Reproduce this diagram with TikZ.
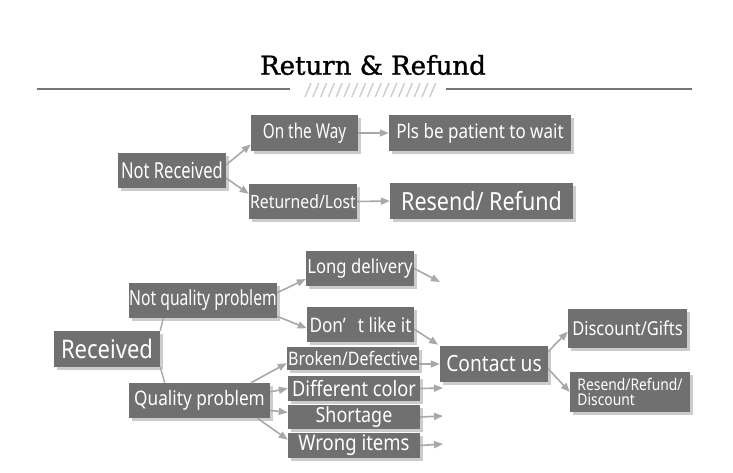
\documentclass[tikz,border=0pt]{standalone}
\usepackage{fontspec}
\setmainfont{Noto Sans}[FakeStretch=0.86]
\newfontfamily\narrowfont{Noto Sans}[FakeStretch=0.75]
\newfontfamily\titlefont{DejaVu Serif}[FakeBold=1.2]
\usepackage{xcolor}
\usetikzlibrary{arrows.meta,shadows}
\definecolor{boxgray}{RGB}{112,112,112}
\definecolor{arrowgray}{RGB}{168,168,168}
\definecolor{rulegray}{RGB}{118,118,118}
\definecolor{hatchgray}{RGB}{205,205,205}

\begin{document}
\begin{tikzpicture}[x=1pt,y=-1pt,
  box/.style={fill=boxgray,text=white,inner sep=0pt,align=center,
    drop shadow={shadow xshift=2.5pt,shadow yshift=-2.5pt,fill=black,opacity=0.2}},
  arr/.style={arrowgray,line width=1.6pt,-{Triangle[length=9pt,width=7pt]}},
  link/.style={arrowgray,line width=1.4pt},
  rule/.style={rulegray,line width=1.8pt},
  hatch/.style={hatchgray,line width=1.4pt}]
  \useasboundingbox (0,0) rectangle (733,472);

  % heading
  \node[inner sep=0pt] (title) at (373,65) {\titlefont\fontsize{26}{26}\selectfont Return \& Refund};
  \draw[rule] (37,89) -- (290,89);
  \draw[rule] (446,89) -- (692,89);
  \foreach \i in {0,...,16}
    \draw[hatch] (305+\i*7.8,97) -- ++(6,-14);

  % not received
  \node[box,minimum width=108pt,minimum height=35pt,font=\narrowfont\fontsize{22}{22}\selectfont] (nrec) at (172,170.5) {Not Received};
  \node[box,minimum width=107pt,minimum height=36pt,font=\narrowfont\fontsize{20.4}{20.4}\selectfont] (way) at (304.5,133) {On the Way};
  \node[box,minimum width=182pt,minimum height=36pt,font=\fontsize{19.8}{19.8}\selectfont] (pls) at (480,133) {Pls be patient to wait};
  \node[box,minimum width=108pt,minimum height=35pt,font=\fontsize{18.3}{18.3}\selectfont] (lost) at (303,201.5) {Returned/Lost};
  \node[box,minimum width=183pt,minimum height=36pt,font=\fontsize{25}{25}\selectfont] (resend) at (481.5,201) {Resend/ Refund};

  \draw[arr] (nrec.6) -- (way.192);
  \draw[arr] (nrec.-8) -- (lost.172);
  \draw[arr] (way.east) -- (pls.west);
  \draw[arr] (lost.east) -- (resend.west);

  % received
  \node[box,minimum width=106pt,minimum height=36pt,font=\fontsize{25.6}{25.6}\selectfont] (rec) at (107,349) {Received};
  \node[box,minimum width=148pt,minimum height=35pt,font=\narrowfont\fontsize{20.9}{20.9}\selectfont] (nqp) at (203,300.5) {Not quality problem};
  \node[box,minimum width=141pt,minimum height=35pt,font=\fontsize{20}{20}\selectfont] (qp) at (199.5,400.5) {Quality problem};

  \node[box,minimum width=108pt,minimum height=35pt,font=\fontsize{19.4}{19.4}\selectfont] (ld) at (360,268.5) {Long delivery};
  \node[box,minimum width=107pt,minimum height=35pt,font=\fontsize{20}{20}\selectfont] (dl) at (360.5,324.5) {Don’\hspace{0.6em}t like it};
  \node[box,minimum width=132pt,minimum height=23pt,font=\fontsize{18.6}{18.6}\selectfont] (bd) at (353,358.5) {Broken/Defective};
  \node[box,minimum width=132pt,minimum height=25pt,font=\fontsize{21.2}{21.2}\selectfont] (dc) at (354,388.5) {Different color};
  \node[box,minimum width=132pt,minimum height=24pt,font=\fontsize{20.8}{20.8}\selectfont] (sh) at (354,417) {Shortage};
  \node[box,minimum width=132pt,minimum height=25pt,font=\fontsize{21.5}{21.5}\selectfont] (wi) at (354,445.5) {Wrong items};

  \node[box,minimum width=108pt,minimum height=36pt,font=\fontsize{22.3}{22.3}\selectfont] (ct) at (494,364) {Contact us};
  \node[box,minimum width=119pt,minimum height=39pt,font=\fontsize{19.2}{19.2}\selectfont] (dg) at (627.5,328.5) {Discount/Gifts};
  \node[box,minimum width=120pt,minimum height=40pt,align=left,font=\fontsize{16.1}{15}\selectfont] (rrd) at (630,392) {Resend/Refund/\\Discount};

  \coordinate (ldend) at (440,282);
  \coordinate (dcend) at (443,388);
  \coordinate (shend) at (443,416);
  \coordinate (wiend) at (443,444);

  \draw[link] (rec.north east) -- (nqp.204);
  \draw[link] (rec.south east) -- (qp.153);

  \draw[arr] (nqp.6) -- (ld.191);
  \draw[arr] (nqp.-12) -- (dl.184);
  \draw[arr] (qp.19) -- (bd.184);
  \draw[arr] (qp.7) -- (dc.west);
  \draw[arr] (qp.-8) -- (sh.176);
  \draw[arr] (qp.-17) -- (wi.175);

  \draw[arr] (ld.east) -- (ldend);
  \draw[arr,shorten >=2pt] (dl.-5) -- (ct.north west);
  \draw[arr] (bd.east |- ct.west) -- (ct.west);
  \draw[arr] (dc.east) -- (dcend);
  \draw[arr] (sh.east) -- (shend);
  \draw[arr] (wi.east) -- (wiend);

  \draw[arr] (ct.13) -- (dg.183);
  \draw[arr] (ct.-5) -- (rrd.west);
\end{tikzpicture}
\end{document}
